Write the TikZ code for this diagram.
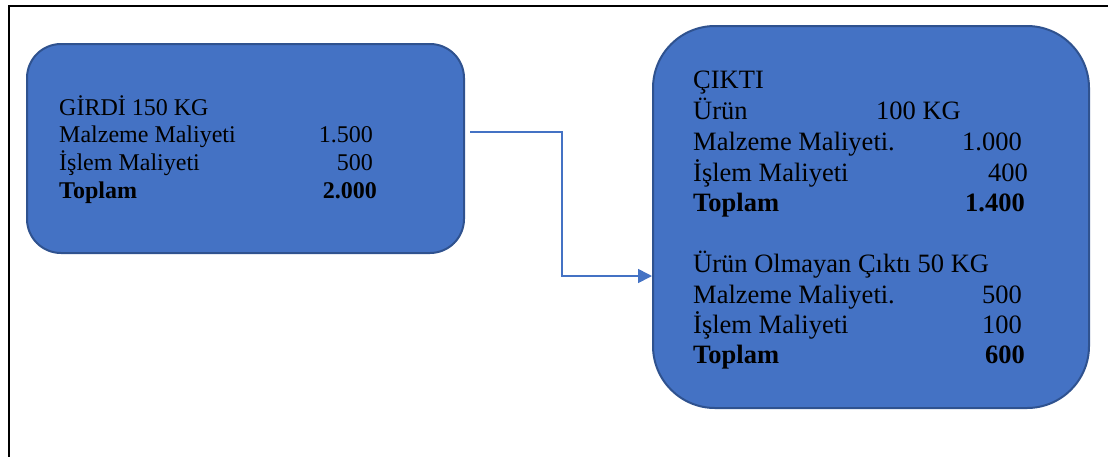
\documentclass[tikz,border=0pt]{standalone}
\usepackage{fontspec}
\setmainfont{Liberation Serif}
\usetikzlibrary{arrows.meta}
\definecolor{boxfill}{HTML}{4472C4}
\definecolor{boxline}{HTML}{2F528F}
\tikzset{
  box/.style={draw=boxline, fill=boxfill, line width=2pt, inner sep=0pt},
  ltxt/.style={anchor=base west, inner sep=0pt, font=\fontsize{24}{28}\selectfont},
  lnum/.style={anchor=base east, inner sep=0pt, font=\fontsize{24}{28}\selectfont},
  rtxt/.style={anchor=base west, inner sep=0pt, font=\fontsize{26.5}{31}\selectfont},
  rnum/.style={anchor=base east, inner sep=0pt, font=\fontsize{26.5}{31}\selectfont},
  conn/.style={draw=boxfill, line width=1.6pt, -{Triangle[length=14pt,width=14pt]}},
  frame/.style={draw=black, line width=2pt}
}
\begin{document}
\begin{tikzpicture}[x=1pt,y=-1pt]
\useasboundingbox (0,0) rectangle (1108,456);
\coordinate (fa) at (9,457);
\coordinate (fb) at (9,6);
\coordinate (fc) at (1109,6);
\draw[frame] (fa) -- (fb) -- (fc);
% boxes
\node[box, rounded corners=34pt, minimum width=437pt, minimum height=209pt] (in) at (245.5,148.5) {};
\node[box, rounded corners=62pt, minimum width=436pt, minimum height=382pt] (out) at (871,217) {};
% left text
\node[ltxt] (g1) at (59,115) {GİRDİ 150 KG};
\node[ltxt] (g2) at (59,142) {Malzeme Maliyeti};
\node[lnum] (g2n) at (373,142) {1.500};
\node[ltxt] (g3) at (59,170) {İşlem Maliyeti};
\node[lnum] (g3n) at (373,170) {500};
\node[ltxt] (g4) at (59,198) {\bfseries Toplam};
\node[lnum] (g4n) at (377,198) {\bfseries 2.000};
% right text
\node[rtxt] (c1) at (693,88) {ÇIKTI};
\node[rtxt] (c2) at (693,119) {Ürün};
\node[rtxt] (c2n) at (876,119) {100 KG};
\node[rtxt] (c3) at (693,150) {Malzeme Maliyeti.};
\node[rnum] (c3n) at (1022,150) {1.000};
\node[rtxt] (c4) at (693,181) {İşlem Maliyeti};
\node[rnum] (c4n) at (1028,181) {400};
\node[rtxt] (c5) at (693,211) {\bfseries Toplam};
\node[rnum] (c5n) at (1025,211) {\bfseries 1.400};
\node[rtxt] (c6) at (693,272) {Ürün Olmayan Çıktı 50 KG};
\node[rtxt] (c7) at (693,303) {Malzeme Maliyeti.};
\node[rnum] (c7n) at (1022,303) {500};
\node[rtxt] (c8) at (693,333) {İşlem Maliyeti};
\node[rnum] (c8n) at (1022,333) {100};
\node[rtxt] (c9) at (693,363) {\bfseries Toplam};
\node[rnum] (c9n) at (1025,363) {\bfseries 600};
% connector
\coordinate (s) at (470,132);
\coordinate (m) at (562,276);
\draw[conn] (s) -| (m) -- (m -| out.west);
\end{tikzpicture}
\end{document}
